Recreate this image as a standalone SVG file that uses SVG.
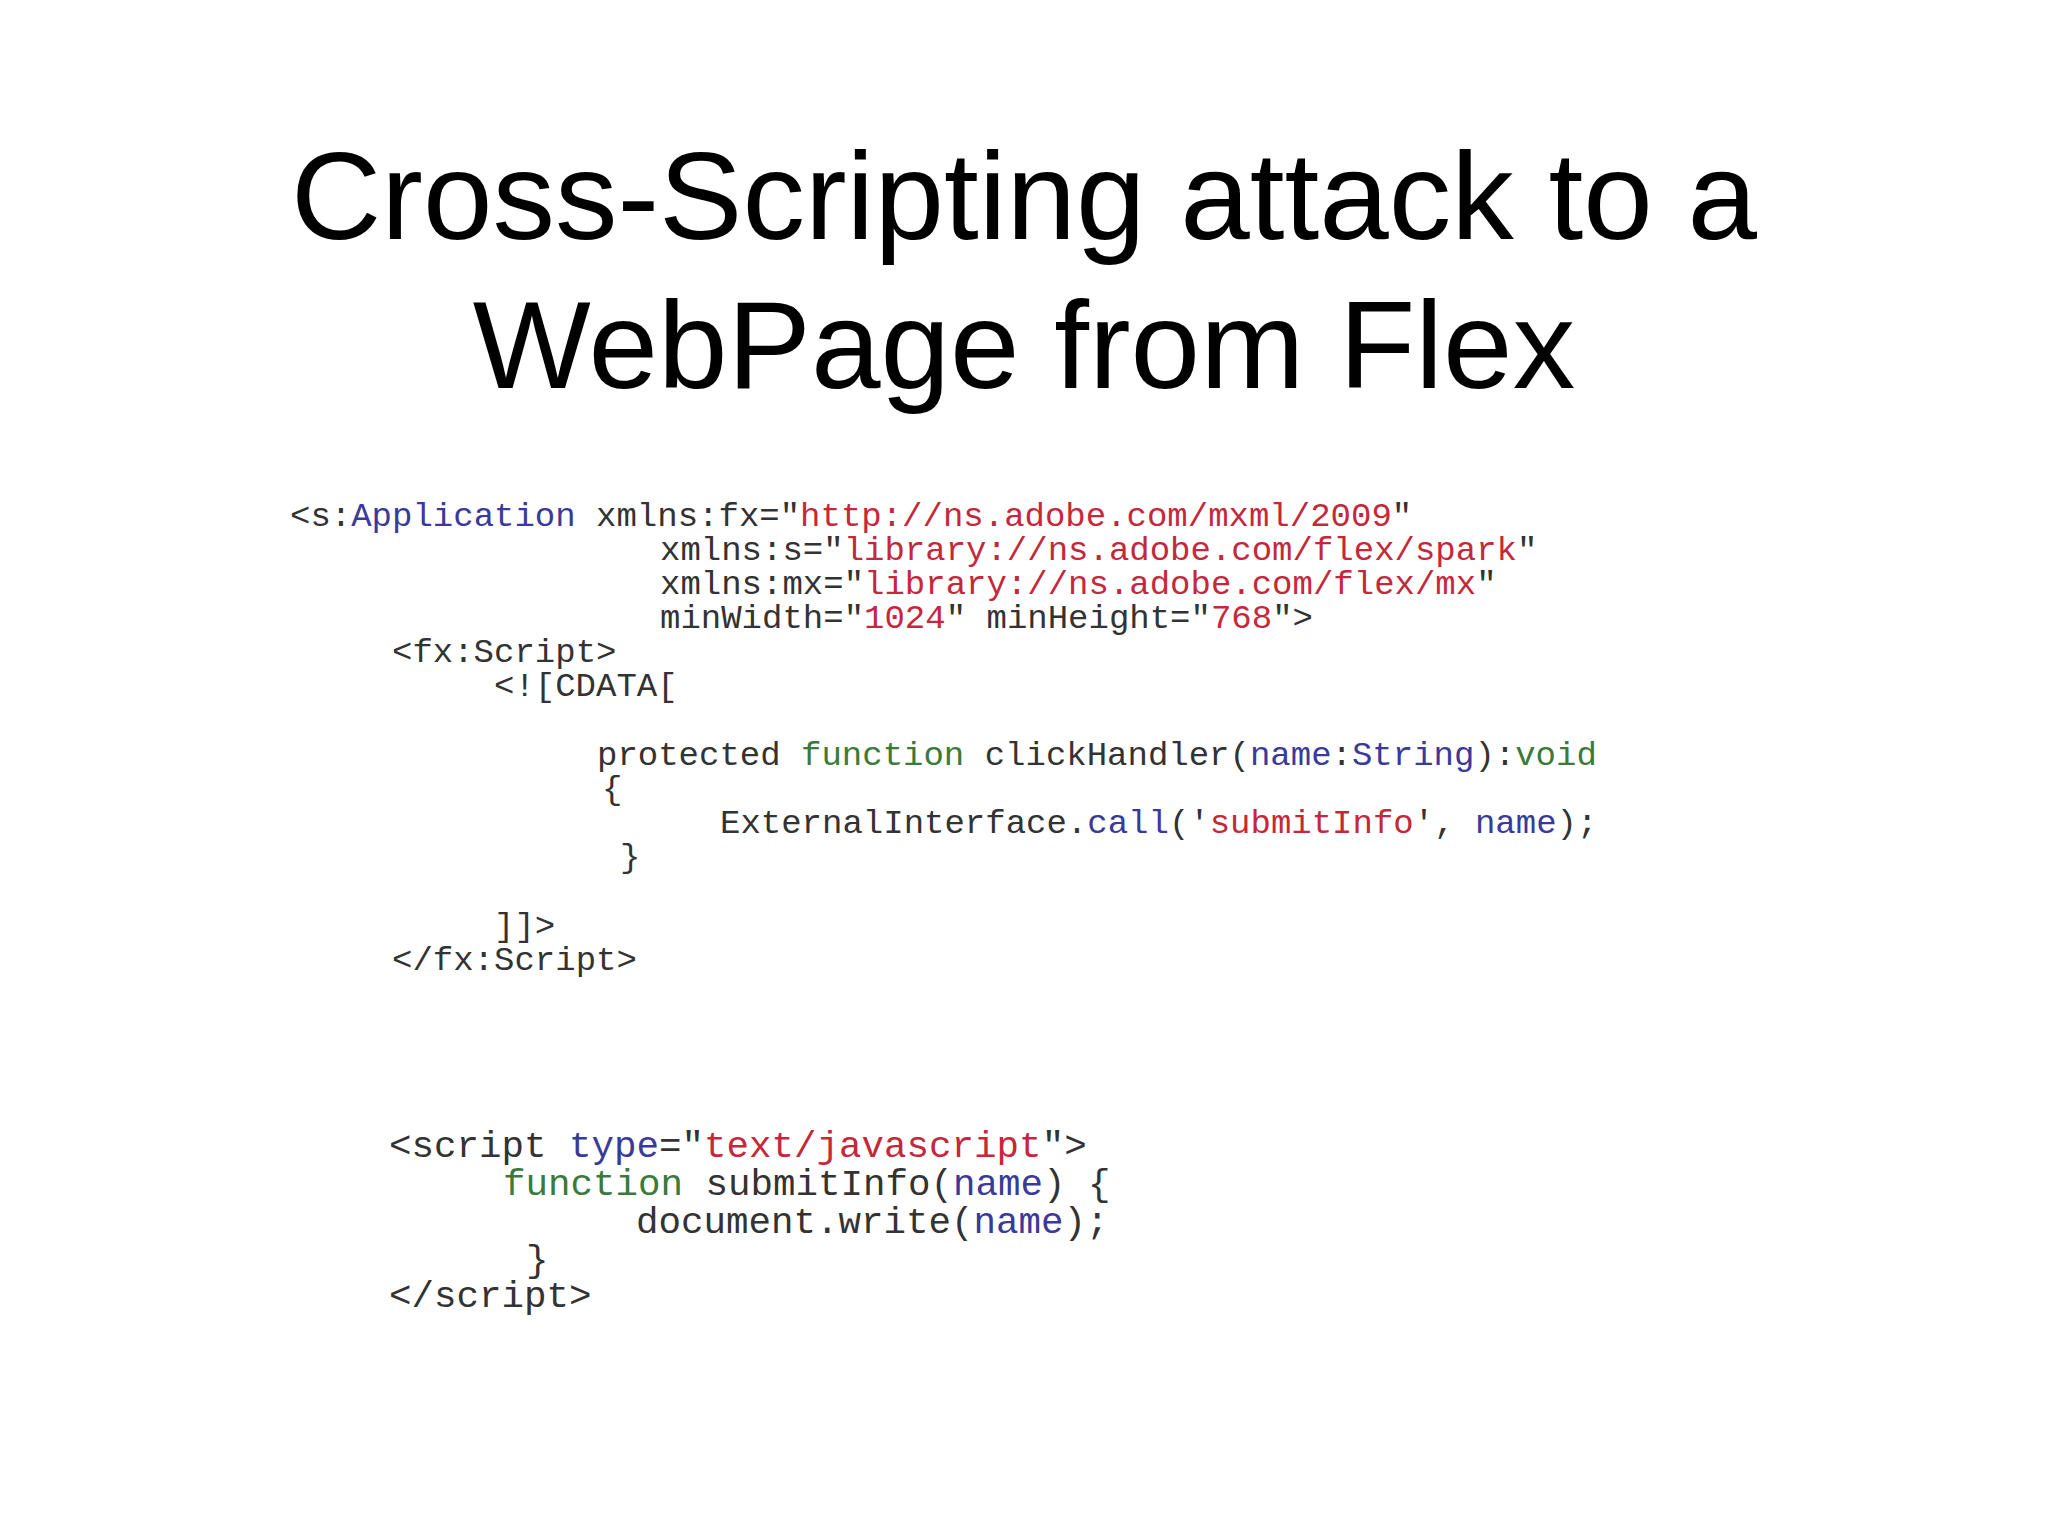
<svg xmlns="http://www.w3.org/2000/svg" width="2048" height="1536" viewBox="0 0 2048 1536">
<style>
.t{font-family:"Liberation Sans",Arial,sans-serif;font-size:125px;fill:#000;text-anchor:middle}
.c{font-family:"Liberation Mono","Courier New",monospace;font-size:34px;fill:#333;white-space:pre}
.c2{font-family:"Liberation Mono","Courier New",monospace;font-size:37.5px;fill:#333;white-space:pre}
.b{fill:#3a3a99}.r{fill:#c4283a}.g{fill:#3a7a3a}
</style>
<rect width="2048" height="1536" fill="#fff"/>
<g id="title">
<text class="t" x="1024" y="239">Cross-Scripting attack to a</text>
<text class="t" x="1024" y="388">WebPage from Flex</text>
</g>
<g id="code1" class="c">
<text x="290" y="526">&lt;s:<tspan class="b">Application</tspan> xmlns:fx="<tspan class="r">http://ns.adobe.com/mxml/2009</tspan>"</text>
<text x="660" y="560">xmlns:s="<tspan class="r">library://ns.adobe.com/flex/spark</tspan>"</text>
<text x="660" y="594">xmlns:mx="<tspan class="r">library://ns.adobe.com/flex/mx</tspan>"</text>
<text x="660" y="628">minWidth="<tspan class="r">1024</tspan>" minHeight="<tspan class="r">768</tspan>"&gt;</text>
<text x="392" y="662">&lt;fx:Script&gt;</text>
<text x="494" y="696">&lt;![CDATA[</text>
<text x="597" y="765">protected <tspan class="g">function</tspan> clickHandler(<tspan class="b">name</tspan>:<tspan class="b">String</tspan>):<tspan class="g">void</tspan></text>
<text x="602" y="799">{</text>
<text x="720" y="833">ExternalInterface.<tspan class="b">call</tspan>('<tspan class="r">submitInfo</tspan>', <tspan class="b">name</tspan>);</text>
<text x="620" y="867">}</text>
<text x="494" y="936">]]&gt;</text>
<text x="392" y="970">&lt;/fx:Script&gt;</text>
</g>
<g id="code2" class="c2">
<text x="389" y="1157">&lt;script <tspan class="b">type</tspan>="<tspan class="r">text/javascript</tspan>"&gt;</text>
<text x="503" y="1195"><tspan class="g">function</tspan> submitInfo(<tspan class="b">name</tspan>) {</text>
<text x="636" y="1233">document.write(<tspan class="b">name</tspan>);</text>
<text x="526" y="1271">}</text>
<text x="389" y="1307">&lt;/script&gt;</text>
</g>
</svg>
